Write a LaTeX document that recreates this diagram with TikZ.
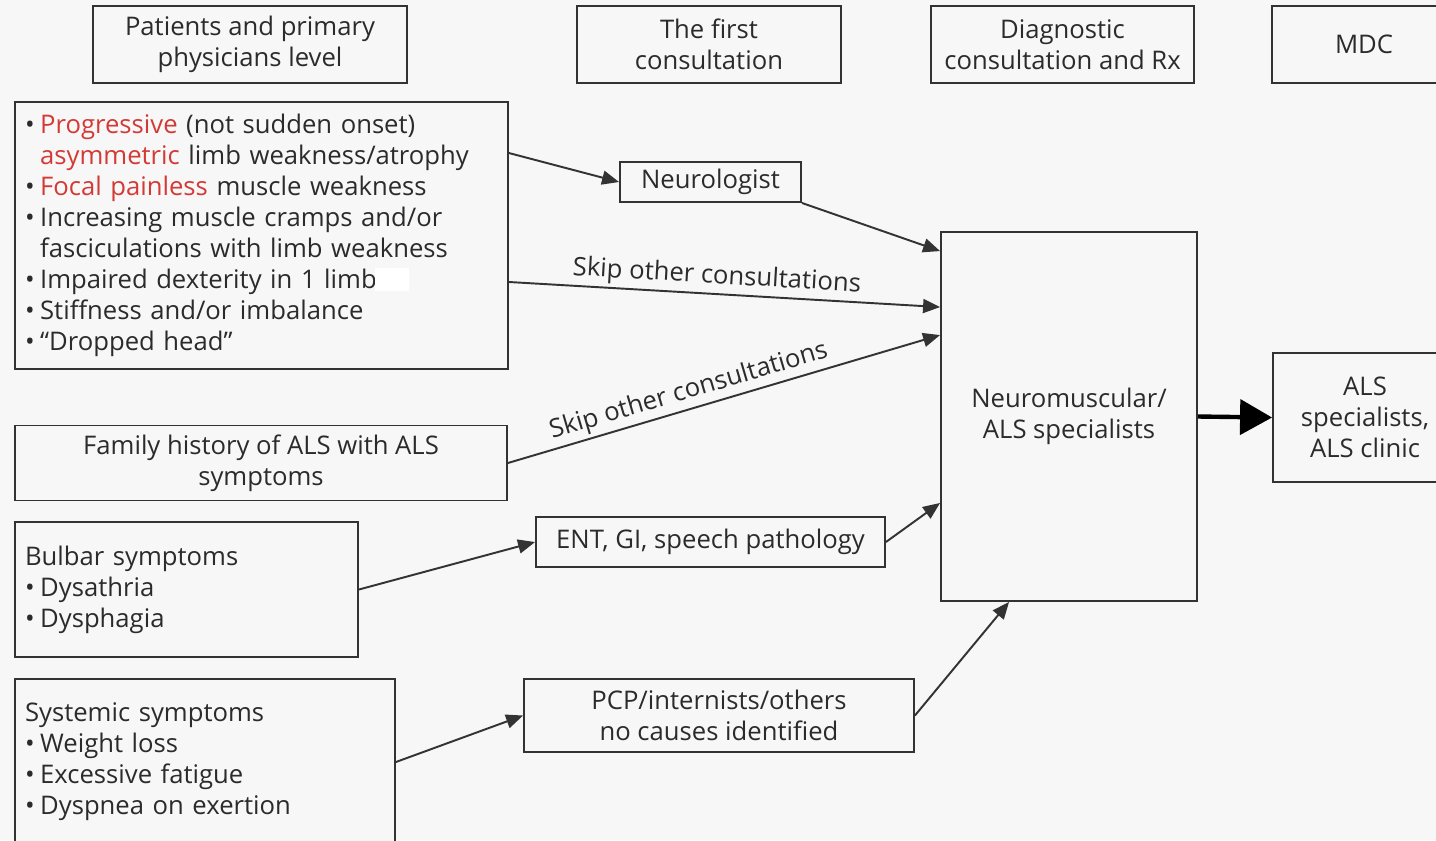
\documentclass[tikz,border=0pt]{standalone}
\usepackage{fontspec}
\setmainfont{Open Sans}
\usetikzlibrary{arrows.meta, positioning}
\definecolor{bgGrey}{HTML}{F7F7F7}
\definecolor{lineGrey}{HTML}{333333}
\definecolor{txtGrey}{HTML}{2B2B2B}
\definecolor{alsRed}{HTML}{D43A35}
\newcommand{\boxfont}{\fontsize{14.6pt}{17.6pt}\selectfont}
\newcommand{\bul}{\makebox[8.6pt][l]{•}}
\newcommand{\hang}{\hspace*{8.6pt}}
\newcommand{\hl}[1]{\textcolor{alsRed}{#1}}
\tikzset{
  box/.style      = {draw=lineGrey, line width=1.1pt, fill=bgGrey, text=txtGrey,
                     font=\boxfont, inner sep=0pt, align=center},
  hdrbox/.style   = {box, minimum height=1.54cm},
  listbox/.style  = {box, align=left},
  flow/.style     = {-{Triangle[length=0.34cm, width=0.28cm]}, line width=1.1pt, lineGrey},
  bigflow/.style  = {-{Triangle[length=0.64cm, width=0.7cm]}, line width=2.5pt, black},
  skiplbl/.style  = {font=\boxfont, text=txtGrey, sloped, above, inner sep=2pt},
}

\begin{document}
\begin{tikzpicture}[x=0.02cm, y=-0.02cm]
  \clip (0,0) rectangle (1436,840);
  \fill[bgGrey] (0,0) rectangle (1436,840);

  \node[hdrbox, minimum width=6.28cm] (hdrPat)  at (250,44.5)   {Patients and primary\\physicians level};
  \node[hdrbox, minimum width=5.28cm] (hdrFirst) at (709,44.5)  {The first\\consultation};
  \node[hdrbox, minimum width=5.26cm] (hdrDiag) at (1062.5,44.5) {Diagnostic\\consultation and Rx};
  \node[hdrbox, minimum width=3.68cm] (hdrMdc)  at (1364,44.5)  {MDC};

  \node[listbox, text width=9.46cm, minimum width=9.86cm, minimum height=5.34cm] (limb) at (261.5,235.5)
    {\bul\hl{Progressive} (not sudden onset)\\
     \hang\hl{asymmetric} limb weakness/atrophy\\
     \bul\hl{Focal painless} muscle weakness\\
     \bul Increasing muscle cramps and/or\\
     \hang fasciculations with limb weakness\\
     \bul Impaired dexterity in 1 limb\\
     \bul Stiffness and/or imbalance\\
     \bul “Dropped head”};
  \fill[white] (375,268) rectangle (409,291);

  \node[box, minimum width=9.84cm, minimum height=1.5cm] (family) at (261,463)
    {Family history of ALS with ALS\\symptoms};
  \node[listbox, text width=6.46cm, minimum width=6.86cm, minimum height=2.7cm] (bulbar) at (186.5,589.5)
    {Bulbar symptoms\\\bul Dysathria\\\bul Dysphagia};
  \node[listbox, text width=7.2cm, minimum width=7.6cm, minimum height=3.32cm] (systemic) at (205,762)
    {Systemic symptoms\\\bul Weight loss\\\bul Excessive fatigue\\\bul Dyspnea on exertion};

  \node[box, minimum width=3.62cm, minimum height=0.8cm] (neuro) at (710.5,182) {Neurologist};
  \node[box, minimum width=6.98cm, minimum height=1.0cm] (ent) at (710.5,542) {ENT, GI, speech pathology};
  \node[box, minimum width=7.8cm, minimum height=1.46cm] (pcp) at (719,715.5)
    {PCP/internists/others\\no causes identified};

  \node[box, minimum width=5.12cm, minimum height=7.38cm] (nm) at (1069,416.5)
    {Neuromuscular/\\ALS specialists};
  \node[box, minimum width=3.68cm, minimum height=2.58cm] (als) at (1365,417.5)
    {ALS\\specialists,\\ALS clinic};

  \draw[flow] ([yshift=1.65cm]limb.east) -- (neuro.west);
  \draw[flow] (neuro.south east) -- ([yshift=-0.4cm]nm.north west);
  \draw[flow] ([yshift=-0.93cm]limb.east) --
    node[skiplbl, pos=0.48] (skipA) {Skip other consultations} ([yshift=-1.52cm]nm.north west);
  \draw[flow] (family.east) --
    node[skiplbl, pos=0.43] (skipB) {Skip other consultations} ([yshift=-2.08cm]nm.north west);
  \draw[flow] (bulbar.east) -- (ent.west);
  \draw[flow] (ent.east) -- ([yshift=1.98cm]nm.south west);
  \draw[flow] (systemic.east) -- (pcp.west);
  \draw[flow] (pcp.east) -- ([xshift=1.38cm]nm.south west);
  \draw[bigflow] (nm.east) -- (als.west);
\end{tikzpicture}
\end{document}
